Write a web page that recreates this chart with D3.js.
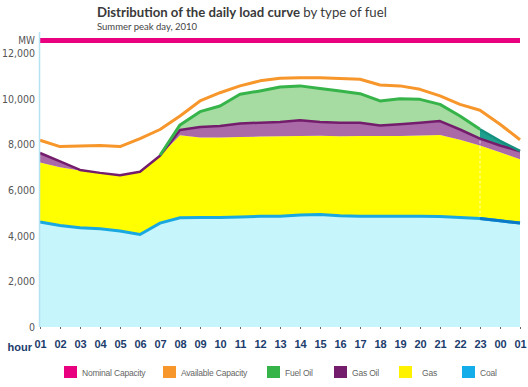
<!DOCTYPE html>
<html>
<head>
<meta charset="utf-8">
<script src="https://cdn.jsdelivr.net/npm/d3@7/dist/d3.min.js"></script>
<style>
  html, body { margin: 0; padding: 0; background: #fff; }
  svg { display: block; }
</style>
</head>
<body>
<svg id="chart" width="528" height="387"></svg>
<script>
// Hourly load on the summer peak day, 2010 (MW)
const hours = ["01","02","03","04","05","06","07","08","09","10","11","12",
               "13","14","15","16","17","18","19","20","21","22","23","00","01"];

// Generation by fuel type, MW per hour
const coal    = [4600,4450,4350,4300,4200,4050,4550,4780,4800,4800,4820,4850,
                 4850,4900,4930,4870,4850,4850,4850,4850,4840,4800,4750,4650,4550];
const gas     = [2600,2550,2500,2450,2450,2750,2950,3620,3500,3500,3500,3490,
                 3500,3460,3450,3480,3510,3510,3520,3540,3570,3400,3200,3000,2800];
const gasOil  = [ 420, 250,  30,   0,   0,   0,   0, 230, 460, 500, 590, 610,
                  630, 690, 600, 600, 590, 460, 510, 560, 610, 450, 300, 300, 350];
const fuelOil = [   0,   0,   0,   0,   0,   0,  20, 220, 670, 880,1280,1390,
                 1530,1510,1470,1390,1270,1080,1120,1020, 730, 590, 410, 200,  10];

// Capacity, MW
const availableCapacity = [8180,7900,7930,7950,7900,8250,8650,9240,9900,10260,10560,10780,
                           10890,10920,10920,10880,10850,10600,10560,10410,10120,9750,9490,8880,8200];
const nominalCapacity = hours.map(() => 12550);

const yTicks = [0, 2000, 4000, 6000, 8000, 10000, 12000];

const fuels = ["coal", "gas", "gasOil", "fuelOil"];
const rows = hours.map((h, i) => ({
  i, coal: coal[i], gas: gas[i], gasOil: gasOil[i], fuelOil: fuelOil[i]
}));
const series = d3.stack().keys(fuels)(rows);
const byKey = Object.fromEntries(series.map(s => [s.key, s]));

const svg = d3.select("#chart");

const x = d3.scaleLinear().domain([0, hours.length - 1]).range([40, 520]);
const y = d3.scaleLinear().domain([0, 12000]).range([327, 53]);

// Title
const title = svg.append("text")
  .attr("x", 97).attr("y", 17)
  .attr("font-family", "Lato, 'Open Sans', sans-serif")
  .attr("font-size", 13.2)
  .attr("fill", "#3a3a3a");
title.append("tspan").attr("font-weight", "bold").text("Distribution of the daily load curve");
title.append("tspan").attr("font-weight", "normal").text(" by type of fuel");

svg.append("text")
  .attr("x", 97).attr("y", 30)
  .attr("font-family", "Lato, 'Open Sans', sans-serif")
  .attr("font-size", 9.5)
  .attr("fill", "#444")
  .text("Summer peak day, 2010");

// Stacked areas
const area = d3.area()
  .x(d => x(d.data.i))
  .y0(d => y(d[0]))
  .y1(d => y(d[1]));

const fills = { coal: "#c7f5fc", gas: "#ffff00", gasOil: "#a96aa7", fuelOil: "#a6dca2" };
fuels.forEach(k => {
  svg.append("path")
    .datum(byKey[k])
    .attr("fill", fills[k])
    .attr("d", area);
});

// Late-evening fuel oil segment
svg.append("path")
  .datum(byKey.fuelOil.filter(d => d.data.i >= 22))
  .attr("fill", "#1fa08e")
  .attr("d", area);

// Faint separator at 23h
svg.append("line")
  .attr("x1", x(22)).attr("x2", x(22))
  .attr("y1", y(byKey.gasOil[22][1]) + 2).attr("y2", y(byKey.coal[22][1]))
  .attr("stroke", "#ffffff").attr("stroke-opacity", 0.7)
  .attr("stroke-width", 1).attr("stroke-dasharray", "3,2");

// Top edges of the stacked bands
const edge = d3.line()
  .x(d => x(d.data.i))
  .y(d => y(d[1]));

svg.append("path")
  .datum(byKey.coal)
  .attr("fill", "none").attr("stroke", "#1aa8e0").attr("stroke-width", 3)
  .attr("d", edge);
svg.append("path")
  .datum(byKey.coal.filter(d => d.data.i >= 22))
  .attr("fill", "none").attr("stroke", "#0a79c6").attr("stroke-width", 3)
  .attr("d", edge);

svg.append("path")
  .datum(byKey.gasOil)
  .attr("fill", "none").attr("stroke", "#741d6c").attr("stroke-width", 2.5)
  .attr("stroke-linejoin", "round")
  .attr("d", edge);

svg.append("path")
  .datum(byKey.fuelOil)
  .attr("fill", "none").attr("stroke", "#36b44a").attr("stroke-width", 3)
  .attr("stroke-linejoin", "round")
  .attr("d", edge.defined(d => d.data.i >= 6 && d.data.i <= 22));
svg.append("path")
  .datum(byKey.fuelOil.filter(d => d.data.i >= 22))
  .attr("fill", "none").attr("stroke", "#15907f").attr("stroke-width", 2.5)
  .attr("d", d3.line().x(d => x(d.data.i)).y(d => y(d[1])));

// Capacity lines
const capLine = d3.line()
  .x((d, i) => x(i))
  .y(d => y(d));

svg.append("path")
  .datum(availableCapacity)
  .attr("fill", "none").attr("stroke", "#f7962a").attr("stroke-width", 3)
  .attr("stroke-linejoin", "round")
  .attr("d", capLine);

svg.append("path")
  .datum(nominalCapacity)
  .attr("fill", "none").attr("stroke", "#e8007f").attr("stroke-width", 5)
  .attr("d", capLine);

// Y axis
svg.append("line")
  .attr("x1", 39.5).attr("x2", 39.5).attr("y1", 32).attr("y2", 327)
  .attr("stroke", "#b4e4f2").attr("stroke-width", 1.5);

const yAxis = svg.append("g")
  .attr("transform", "translate(39,0)")
  .call(d3.axisLeft(y).tickValues(yTicks).tickFormat(d3.format(",")).tickSize(0).tickPadding(4));
yAxis.select(".domain").remove();
yAxis.selectAll("text")
  .attr("font-family", "'Liberation Sans Narrow', 'DejaVu Sans Condensed', sans-serif")
  .attr("font-size", 10.5)
  .attr("fill", "#555");

svg.append("text")
  .attr("x", 35).attr("y", 44)
  .attr("text-anchor", "end")
  .attr("font-family", "'Liberation Sans Narrow', 'DejaVu Sans Condensed', sans-serif")
  .attr("font-size", 10)
  .attr("fill", "#555")
  .text("MW");

// X axis
const xAxis = svg.append("g")
  .attr("transform", "translate(0,327)")
  .call(d3.axisBottom(x).tickValues(d3.range(hours.length))
    .tickFormat(i => hours[i]).tickSize(2).tickPadding(11));
xAxis.select(".domain").remove();
xAxis.selectAll(".tick line").attr("stroke", "#666");
xAxis.selectAll("text")
  .attr("font-family", "'Liberation Sans', Arial, sans-serif")
  .attr("font-weight", "bold")
  .attr("font-size", 11)
  .attr("fill", "#1c3c6c");

svg.append("text")
  .attr("x", 32).attr("y", 351)
  .attr("text-anchor", "end")
  .attr("font-family", "'Liberation Sans', Arial, sans-serif")
  .attr("font-weight", "bold")
  .attr("font-size", 11)
  .attr("fill", "#1c3c6c")
  .text("hour");

// Legend
const legendItems = [
  { label: "Nominal Capacity",   color: "#e8007f", x: 64 },
  { label: "Available Capacity", color: "#f7962a", x: 163 },
  { label: "Fuel Oil",           color: "#36b44a", x: 267 },
  { label: "Gas Oil",            color: "#741d6c", x: 334 },
  { label: "Gas",                color: "#fff200", x: 399 },
  { label: "Coal",               color: "#13aeea", x: 462 }
];
const legend = svg.append("g");
const li = legend.selectAll("g").data(legendItems).join("g")
  .attr("transform", d => `translate(${d.x},366)`);
li.append("rect").attr("width", 13).attr("height", 12).attr("fill", d => d.color);
li.append("text")
  .attr("x", d => d.label === "Gas" ? 23 : 18).attr("y", 10)
  .attr("font-family", "'Liberation Sans', Arial, sans-serif")
  .attr("font-size", 8.5)
  .attr("letter-spacing", -0.2)
  .attr("fill", "#666")
  .text(d => d.label);
</script>
</body>
</html>
